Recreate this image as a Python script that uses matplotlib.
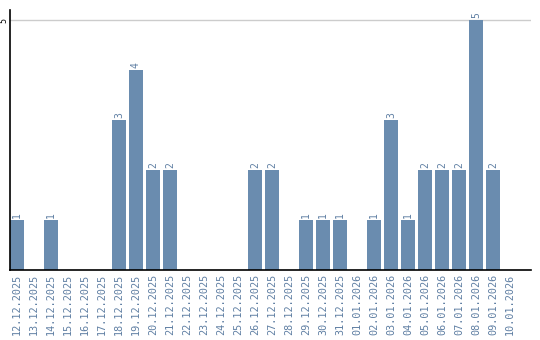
import matplotlib
matplotlib.use("Agg")
import matplotlib.pyplot as plt

dates = ["12.12.2025", "13.12.2025", "14.12.2025", "15.12.2025", "16.12.2025",
         "17.12.2025", "18.12.2025", "19.12.2025", "20.12.2025", "21.12.2025",
         "22.12.2025", "23.12.2025", "24.12.2025", "25.12.2025", "26.12.2025",
         "27.12.2025", "28.12.2025", "29.12.2025", "30.12.2025", "31.12.2025",
         "01.01.2026", "02.01.2026", "03.01.2026", "04.01.2026", "05.01.2026",
         "06.01.2026", "07.01.2026", "08.01.2026", "09.01.2026", "10.01.2026"]
counts = [1, 0, 1, 0, 0, 0, 3, 4, 2, 2,
          0, 0, 0, 0, 2, 2, 0, 1, 1, 1,
          0, 1, 3, 1, 2, 2, 2, 5, 2, 0]

bar_color = "#6a8caf"
label_color = "#5f7fa3"

fig = plt.figure(figsize=(5.4, 3.4), dpi=100)
ax = fig.add_axes([10 / 540, 70 / 340, 521 / 540, 260 / 340])

x = list(range(len(dates)))
ax.bar(x, counts, width=0.82, align="edge", color=bar_color, zorder=2)

for xi, c in zip(x, counts):
    if c > 0:
        ax.text(xi + 0.41, c + 0.05, str(c), rotation=90, ha="center", va="bottom",
                fontsize=7, color=label_color, family="DejaVu Sans Mono")

ax.set_xlim(0, 30.65)
ax.set_ylim(0, 5.2)
ax.axhline(5, color="#cccccc", lw=1, zorder=1)

ax.set_xticks([xi + 0.41 for xi in x])
ax.set_xticklabels(dates, rotation=90, fontsize=7.3, color=label_color,
                   family="DejaVu Sans Mono")
ax.set_yticks([5])
ax.set_yticklabels(["5"], rotation=90, fontsize=6, va="center",
                   family="DejaVu Sans Mono")
ax.tick_params(axis="x", length=0, pad=3)
ax.tick_params(axis="y", length=0, pad=1)

for s in ["top", "right"]:
    ax.spines[s].set_visible(False)
ax.spines["left"].set_linewidth(1.2)
ax.spines["bottom"].set_linewidth(1.2)

plt.savefig("out.png", dpi=100)
